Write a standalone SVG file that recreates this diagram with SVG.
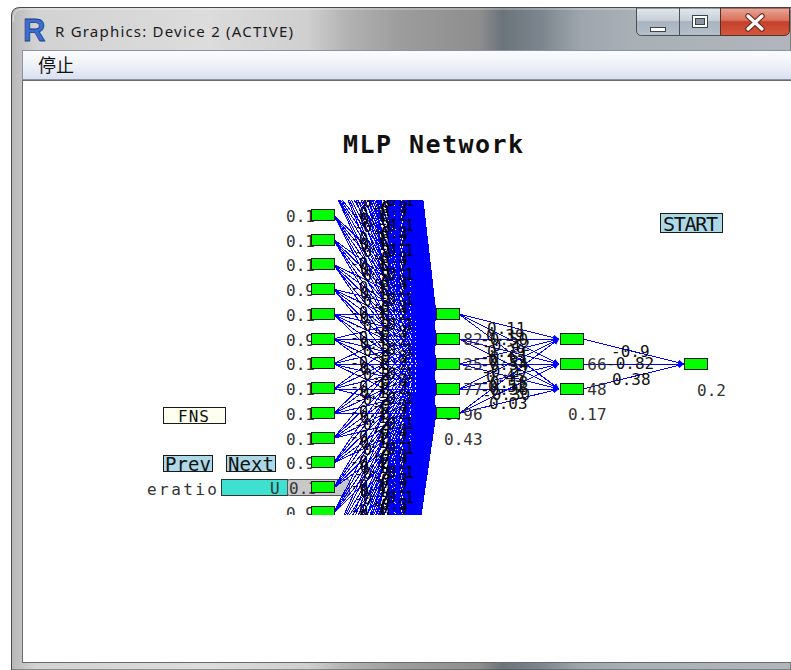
<svg xmlns="http://www.w3.org/2000/svg" width="791" height="670" viewBox="0 0 791 670">
<style>
.lb{font-family:"DejaVu Sans Mono","Liberation Mono",monospace;font-size:16px;fill:#333}
.wl{font-family:"DejaVu Sans Mono","Liberation Mono",monospace;font-size:15px;fill:#000}
.wt{font-family:"DejaVu Sans Mono","Liberation Mono",monospace;font-size:16px;fill:#111}
.bt{font-family:"DejaVu Sans Mono","Liberation Mono",monospace;fill:#111}
.nd{fill:#00ff00;stroke:#1a1a1a;stroke-width:1}
.ln{stroke:#0000ff;stroke-width:1;fill:none;shape-rendering:crispEdges}
.la{stroke:#0000ff;stroke-width:1;fill:none;shape-rendering:crispEdges;marker-end:url(#ah)}
.btn{fill:#add8e6;stroke:#1a1a1a;stroke-width:1}
</style>
<defs>
<linearGradient id="frameg" gradientUnits="userSpaceOnUse" x1="12" y1="0" x2="791" y2="0">
<stop offset="0" stop-color="#b8b8b8"/>
<stop offset="0.03" stop-color="#d2d2d2"/>
<stop offset="0.25" stop-color="#dcdcdc"/>
<stop offset="0.38" stop-color="#cfcfcf"/>
<stop offset="0.43" stop-color="#b2b2b2"/>
<stop offset="0.5" stop-color="#9c9c9c"/>
<stop offset="0.6" stop-color="#8e8e8e"/>
<stop offset="0.63" stop-color="#6b737b"/>
<stop offset="0.68" stop-color="#7d868e"/>
<stop offset="0.73" stop-color="#9ea6ad"/>
<stop offset="0.8" stop-color="#a9b0b6"/>
<stop offset="1" stop-color="#b0b6bb"/>
</linearGradient>
<linearGradient id="menug" x1="0" y1="0" x2="0" y2="1">
<stop offset="0" stop-color="#fbfcfe"/>
<stop offset="0.5" stop-color="#eef1f8"/>
<stop offset="1" stop-color="#d9dfee"/>
</linearGradient>
<linearGradient id="btng" x1="0" y1="0" x2="0" y2="1">
<stop offset="0" stop-color="#e2e7ed"/>
<stop offset="0.45" stop-color="#c7cfd8"/>
<stop offset="0.5" stop-color="#a8b3bf"/>
<stop offset="1" stop-color="#b6c0cb"/>
</linearGradient>
<linearGradient id="closeg" x1="0" y1="0" x2="0" y2="1">
<stop offset="0" stop-color="#e8a898"/>
<stop offset="0.45" stop-color="#d8705a"/>
<stop offset="0.5" stop-color="#c4402a"/>
<stop offset="1" stop-color="#d2583e"/>
</linearGradient>
<clipPath id="plot"><rect x="0" y="200" width="791" height="315"/></clipPath>
<marker id="ah" viewBox="0 0 6 6" refX="6" refY="3" markerWidth="6" markerHeight="6" markerUnits="userSpaceOnUse" orient="auto">
<path d="M0 0L6 3L0 6Z" fill="#0000ff"/>
</marker>
<path id="fan" class="ln" d="M334 -577L436 314M334 -552.25L436 314M334 -527.5L436 314M334 -502.75L436 314M334 -478L436 314M334 -453.25L436 314M334 -428.5L436 314M334 -403.75L436 314M334 -379L436 314M334 -354.25L436 314M334 -329.5L436 314M334 -304.75L436 314M334 -280L436 314M334 -255.25L436 314M334 -230.5L436 314M334 -205.75L436 314M334 -181L436 314M334 -156.25L436 314M334 -131.5L436 314M334 -106.75L436 314M334 -82L436 314M334 -57.25L436 314M334 -32.5L436 314M334 -7.75L436 314M334 17L436 314M334 41.75L436 314M334 66.5L436 314M334 91.25L436 314M334 116L436 314M334 140.75L436 314M334 165.5L436 314M334 190.25L436 314M334 215L436 314M334 239.75L436 314M334 264.5L436 314M334 289.25L436 314M334 314L436 314M334 338.75L436 314M334 363.5L436 314M334 388.25L436 314M334 413L436 314M334 437.75L436 314M334 462.5L436 314M334 487.25L436 314M334 512L436 314M334 536.75L436 314M334 561.5L436 314M334 586.25L436 314M334 611L436 314M334 635.75L436 314M334 660.5L436 314M334 685.25L436 314M334 710L436 314M334 734.75L436 314M334 759.5L436 314M334 784.25L436 314M334 809L436 314M334 833.75L436 314M334 858.5L436 314M334 883.25L436 314M334 908L436 314M334 932.75L436 314M334 957.5L436 314M334 982.25L436 314M334 1007L436 314"/>
<g id="wband">
<text class="wl" x="350" y="4">-0.1</text>
<text class="wl" x="354" y="-8">-0.2</text>
<text class="wl" x="360" y="10">0.1</text>
<text class="wl" x="372" y="-2">-0.3</text>
<text class="wl" x="381" y="6">0.2</text>
<text class="wl" x="387" y="-9">0.1</text>
</g>
</defs>

<!-- window chrome -->
<rect x="0" y="0" width="791" height="670" fill="#ffffff"/>
<path d="M11.5 670V16Q11.5 7.5 20 7.5H791V670Z" fill="url(#frameg)" stroke="#4a4a4a" stroke-width="1"/>
<path d="M13 22Q13 9 22 9H791" fill="none" stroke="#ffffff" stroke-opacity="0.5"/>
<text x="23" y="41" font-family="Liberation Sans, Arial, sans-serif" font-weight="bold" font-size="31" fill="#3a6fd0" stroke="#1c3f8f" stroke-width="0.8">R</text>
<text x="55" y="37" font-family="Noto Sans, Open Sans, sans-serif" font-size="15" fill="#1b1b1b" textLength="238">R Graphics: Device 2 (ACTIVE)</text>
<path d="M636.5 8V30Q636.5 35.5 641.5 35.5H679.5V8Z" fill="url(#btng)" stroke="#4a5058"/>
<rect x="679.5" y="8" width="41" height="27.5" fill="url(#btng)" stroke="#4a5058"/>
<path d="M720.5 8V35.5H784Q789.5 35.5 789.5 30V8Z" fill="url(#closeg)" stroke="#5a2f28"/>
<rect x="650.5" y="27.5" width="15" height="4" fill="#ffffff" stroke="#3c4450"/>
<rect x="692.5" y="15.5" width="15" height="12" fill="#ffffff" stroke="#3c4450"/>
<rect x="695.5" y="18.5" width="9" height="6" fill="#8c96a2" stroke="#3c4450"/>
<path d="M748 16L762 29M762 16L748 29" stroke="#6a2a1e" stroke-width="5.5" stroke-linecap="round"/>
<path d="M748 16L762 29M762 16L748 29" stroke="#ffffff" stroke-width="3.2" stroke-linecap="round"/>
<rect x="22.5" y="50.5" width="770" height="29" fill="url(#menug)" stroke="#8a93a3"/>
<text x="38" y="72" font-family="Noto Sans CJK SC, Noto Sans CJK JP, sans-serif" font-size="18" fill="#111">停止</text>
<rect x="22.5" y="80.5" width="770" height="582" fill="#ffffff" stroke="#6a6a6a"/>

<!-- title -->
<text x="433" y="153" text-anchor="middle" font-family="DejaVu Sans Mono, Liberation Mono, monospace" font-weight="bold" font-size="25" textLength="180" fill="#111">MLP Network</text>

<!-- widgets -->
<g id="btn-start"><rect class="btn" x="660.5" y="213.5" width="62" height="19"/><text class="bt" x="663" y="231" font-size="20" textLength="55">START</text></g>
<g id="btn-fns"><rect x="163.5" y="407.5" width="62" height="16" fill="#fffff0" stroke="#1a1a1a"/><text class="bt" x="178" y="422" font-size="16" textLength="31">FNS</text></g>
<g id="btn-prev"><rect class="btn" x="163.5" y="455.5" width="49" height="16"/><text class="bt" x="165" y="471" font-size="19" textLength="46">Prev</text></g>
<g id="btn-next"><rect class="btn" x="226.5" y="455.5" width="49" height="16"/><text class="bt" x="228" y="471" font-size="19" textLength="46">Next</text></g>
<g id="slider">
<text class="lb" x="147" y="495" textLength="70">eratio</text>
<rect x="221.5" y="479.5" width="66" height="16" fill="#40e0d0" stroke="#333"/>
<text class="lb" x="270" y="494">U</text>
<rect x="287.5" y="479.5" width="62" height="16" rx="2" fill="#c8c8c8" stroke="#555"/>
<text class="lb" x="289" y="494">0.3</text>
</g>

<!-- connectors -->
<g id="connectors">
<g clip-path="url(#plot)">
<use href="#fan"/>
<use href="#fan" transform="translate(0,25)"/>
<use href="#fan" transform="translate(0,50)"/>
<use href="#fan" transform="translate(0,75)"/>
<use href="#fan" transform="translate(0,99.5)"/>
<use href="#wband" transform="translate(0,190.25)"/>
<use href="#wband" transform="translate(0,215)"/>
<use href="#wband" transform="translate(0,239.75)"/>
<use href="#wband" transform="translate(0,264.5)"/>
<use href="#wband" transform="translate(0,289.25)"/>
<use href="#wband" transform="translate(0,314)"/>
<use href="#wband" transform="translate(0,338.75)"/>
<use href="#wband" transform="translate(0,363.5)"/>
<use href="#wband" transform="translate(0,388.25)"/>
<use href="#wband" transform="translate(0,413)"/>
<use href="#wband" transform="translate(0,437.75)"/>
<use href="#wband" transform="translate(0,462.5)"/>
<use href="#wband" transform="translate(0,487.25)"/>
<use href="#wband" transform="translate(0,512)"/>
<use href="#wband" transform="translate(0,536.75)"/>
</g>
<line class="la" x1="459" y1="314" x2="559" y2="339"/>
<line class="la" x1="459" y1="314" x2="559" y2="364"/>
<line class="la" x1="459" y1="314" x2="559" y2="389"/>
<line class="la" x1="459" y1="339" x2="559" y2="339"/>
<line class="la" x1="459" y1="339" x2="559" y2="364"/>
<line class="la" x1="459" y1="339" x2="559" y2="389"/>
<line class="la" x1="459" y1="364" x2="559" y2="339"/>
<line class="la" x1="459" y1="364" x2="559" y2="364"/>
<line class="la" x1="459" y1="364" x2="559" y2="389"/>
<line class="la" x1="459" y1="389" x2="559" y2="339"/>
<line class="la" x1="459" y1="389" x2="559" y2="364"/>
<line class="la" x1="459" y1="389" x2="559" y2="389"/>
<line class="la" x1="459" y1="413.5" x2="559" y2="339"/>
<line class="la" x1="459" y1="413.5" x2="559" y2="364"/>
<line class="la" x1="459" y1="413.5" x2="559" y2="389"/>
<line class="la" x1="583" y1="339" x2="684" y2="364"/>
<line class="la" x1="583" y1="364" x2="684" y2="364"/>
<line class="la" x1="583" y1="389" x2="684" y2="364"/>
<text class="wt" x="487" y="334">0.11</text>
<text class="wt" x="486" y="341">0.39</text>
<text class="wt" x="480" y="345">-0.50</text>
<text class="wt" x="482" y="351">-0.42</text>
<text class="wt" x="487" y="357">0.29</text>
<text class="wt" x="480" y="363">-0.61</text>
<text class="wt" x="488" y="366">0.33</text>
<text class="wt" x="480" y="370">-0.54</text>
<text class="wt" x="481" y="377">-0.27</text>
<text class="wt" x="486" y="382">0.45</text>
<text class="wt" x="480" y="388">-0.18</text>
<text class="wt" x="488" y="392">0.52</text>
<text class="wt" x="480" y="395">-0.36</text>
<text class="wt" x="482" y="400">-0.30</text>
<text class="wt" x="489" y="409">0.03</text>
<text class="wt" x="611" y="357">-0.9</text>
<text class="wt" x="606" y="369">-0.82</text>
<text class="wt" x="612" y="385">0.38</text>
</g>

<!-- input nodes -->
<g clip-path="url(#plot)">
<g id="in0"><text class="lb" x="286" y="222">0.1</text><rect class="nd" x="311.5" y="209.5" width="23" height="11"/></g>
<g id="in1"><text class="lb" x="286" y="247">0.1</text><rect class="nd" x="311.5" y="234.5" width="23" height="11"/></g>
<g id="in2"><text class="lb" x="286" y="271">0.1</text><rect class="nd" x="311.5" y="258.5" width="23" height="11"/></g>
<g id="in3"><text class="lb" x="286" y="296">0.9</text><rect class="nd" x="311.5" y="283.5" width="23" height="11"/></g>
<g id="in4"><text class="lb" x="286" y="321">0.1</text><rect class="nd" x="311.5" y="308.5" width="23" height="11"/></g>
<g id="in5"><text class="lb" x="286" y="346">0.9</text><rect class="nd" x="311.5" y="333.5" width="23" height="11"/></g>
<g id="in6"><text class="lb" x="286" y="370">0.1</text><rect class="nd" x="311.5" y="357.5" width="23" height="11"/></g>
<g id="in7"><text class="lb" x="286" y="395">0.1</text><rect class="nd" x="311.5" y="382.5" width="23" height="11"/></g>
<g id="in8"><text class="lb" x="286" y="420">0.1</text><rect class="nd" x="311.5" y="407.5" width="23" height="11"/></g>
<g id="in9"><text class="lb" x="286" y="445">0.1</text><rect class="nd" x="311.5" y="432.5" width="23" height="11"/></g>
<g id="in10"><text class="lb" x="286" y="469">0.9</text><rect class="nd" x="311.5" y="456.5" width="23" height="11"/></g>
<g id="in11"><rect class="nd" x="311.5" y="481.5" width="23" height="11"/></g>
<g id="in12"><text class="lb" x="286" y="519">0.9</text><rect class="nd" x="311.5" y="506.5" width="23" height="11"/></g>
</g>

<!-- hidden layer 1 -->
<g id="h1-0"><rect class="nd" x="436.5" y="308.5" width="23" height="11"/><text class="lb" x="444" y="345">0.82</text></g>
<g id="h1-1"><rect class="nd" x="436.5" y="333.5" width="23" height="11"/><text class="lb" x="444" y="370">0.25</text></g>
<g id="h1-2"><rect class="nd" x="436.5" y="358.5" width="23" height="11"/><text class="lb" x="444" y="395">0.77</text></g>
<g id="h1-3"><rect class="nd" x="436.5" y="383.5" width="23" height="11"/><text class="lb" x="444" y="420">0.96</text></g>
<g id="h1-4"><rect class="nd" x="436.5" y="407.5" width="23" height="11"/><text class="lb" x="444" y="445">0.43</text></g>
<!-- hidden layer 2 -->
<g id="h2-0"><rect class="nd" x="560.5" y="333.5" width="23" height="11"/><text class="lb" x="568" y="370">0.66</text></g>
<g id="h2-1"><rect class="nd" x="560.5" y="358.5" width="23" height="11"/><text class="lb" x="568" y="395">0.48</text></g>
<g id="h2-2"><rect class="nd" x="560.5" y="383.5" width="23" height="11"/><text class="lb" x="568" y="420">0.17</text></g>
<!-- output -->
<g id="out"><rect class="nd" x="684.5" y="358.5" width="23" height="11"/><text class="lb" x="697" y="396">0.2</text></g>
</svg>
